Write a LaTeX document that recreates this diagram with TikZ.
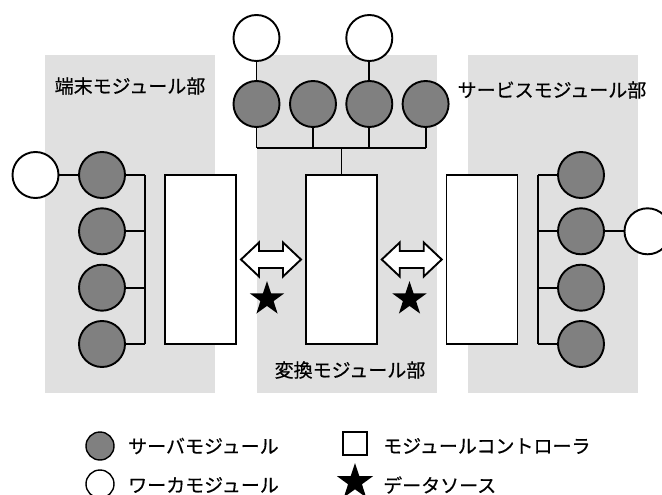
\documentclass[tikz,border=0pt]{standalone}
\usepackage{fontspec}
\setmainfont{Noto Sans CJK JP}[FakeBold=0.5]
\usetikzlibrary{shapes.geometric,calc}
\definecolor{panelgray}{HTML}{E0E0E0}
\definecolor{servergray}{HTML}{808080}
\begin{document}
\begin{tikzpicture}[x=1pt,y=-1pt,
  panel/.style={fill=panelgray,draw=none},
  server/.style={circle,draw,line width=1.9pt,fill=servergray,minimum size=46pt,inner sep=0pt},
  worker/.style={circle,draw,line width=1.9pt,fill=white,minimum size=46pt,inner sep=0pt},
  ctrl/.style={draw,line width=1.9pt,fill=white,inner sep=0pt,minimum width=71pt,minimum height=169pt},
  link/.style={line width=1.9pt},
  dblarrow/.style={draw,line width=1.9pt,fill=white,line join=miter},
  datastar/.style={star,star points=5,star point ratio=2.6,fill=black,draw=none,inner sep=0pt,minimum size=36pt},
  lbl/.style={font=\fontsize{19pt}{22pt}\selectfont,inner sep=0pt},
  legcircle/.style={circle,draw,line width=1.4pt,minimum size=28pt,inner sep=0pt},
  legbox/.style={draw,line width=1.4pt,fill=white,minimum width=24pt,minimum height=23pt,inner sep=0pt}]
\useasboundingbox (0,0) rectangle (662,495);
\clip (0,0) rectangle (662,495);

% panels
\fill[panel] (45,55) rectangle (215,393);
\fill[panel] (257,55) rectangle (437,393);
\fill[panel] (468,55) rectangle (638,393);

% panel labels
\node[lbl] (lblL) at (130,86) {端末モジュール部};
\node[lbl] (lblR) at (552,90) {サービスモジュール部};
\node[lbl] (lblM) at (350,370) {変換モジュール部};

% controllers
\node[ctrl] (lc) at (200.5,259.5) {};
\node[ctrl] (mc) at (341.5,259.5) {};
\node[ctrl] (rc) at (482,259.5) {};

% left side
\node[server] (s1) at (102,175) {};
\node[server] (s2) at (102,231.3) {};
\node[server] (s3) at (102,287.7) {};
\node[server] (s4) at (102,344) {};
\node[worker] (lw) at (35.5,175) {};
\coordinate (lb1) at (145,175);
\coordinate (lb4) at (145,344);
\draw[link] (lw) -- (s1);
\draw[link] (lb1) -- (lb4);
\foreach \n in {s1,s2,s3,s4} \draw[link] (\n.east) -- (\n.east -| lb1);

% top
\node[server] (t1) at (256.5,104) {};
\node[server] (t2) at (313,104) {};
\node[server] (t3) at (369.3,104) {};
\node[server] (t4) at (425.6,104) {};
\node[worker] (tw1) at (256.5,38) {};
\node[worker] (tw3) at (369.3,38) {};
\coordinate (tbL) at (256.5,148);
\coordinate (tbR) at (425.6,148);
\draw[link] (tw1) -- (t1);
\draw[link] (tw3) -- (t3);
\draw[link] (tbL) -- (tbR);
\foreach \n in {t1,t2,t3,t4} \draw[link] (\n.south) -- (\n.south |- tbL);
\draw[link] (mc.north) -- (mc.north |- tbL);

% right side
\node[server] (r1) at (581,175) {};
\node[server] (r2) at (581,231.3) {};
\node[server] (r3) at (581,287.7) {};
\node[server] (r4) at (581,344) {};
\node[worker] (rw) at (647.5,231.3) {};
\coordinate (rb1) at (538,175);
\coordinate (rb4) at (538,344);
\draw[link] (r2) -- (rw);
\draw[link] (rb1) -- (rb4);
\foreach \n in {r1,r2,r3,r4} \draw[link] (\n.west) -- (\n.west -| rb1);

% double arrows between controllers
\coordinate (a1) at ($(lc.east)!0.5!(mc.west)$);
\coordinate (a2) at ($(mc.east)!0.5!(rc.west)$);
\foreach \a in {a1,a2}
  \draw[dblarrow,shift={(\a)}] (-30,0) -- (-12,-17) -- (-12,-8.5) -- (12,-8.5) -- (12,-17)
     -- (30,0) -- (12,17) -- (12,8.5) -- (-12,8.5) -- (-12,17) -- cycle;

% data sources
\node[datastar] (d1) at (267,299) {};
\node[datastar] (d2) at (409.5,299) {};

% legend
\node[legcircle,fill=servergray] (ls) at (100,446) {};
\node[lbl,anchor=west] (lst) at (128,446) {サーバモジュール};
\node[legcircle,fill=white] (lwk) at (100,484) {};
\node[lbl,anchor=west] (lwt) at (128,485) {ワーカモジュール};
\node[legbox] (lc2) at (355,443.5) {};
\node[lbl,anchor=west] (lct) at (383,446) {モジュールコントローラ};
\node[datastar,minimum size=38pt] (ld) at (355,482) {};
\node[lbl,anchor=west] (ldt) at (383,485) {データソース};
\end{tikzpicture}
\end{document}
